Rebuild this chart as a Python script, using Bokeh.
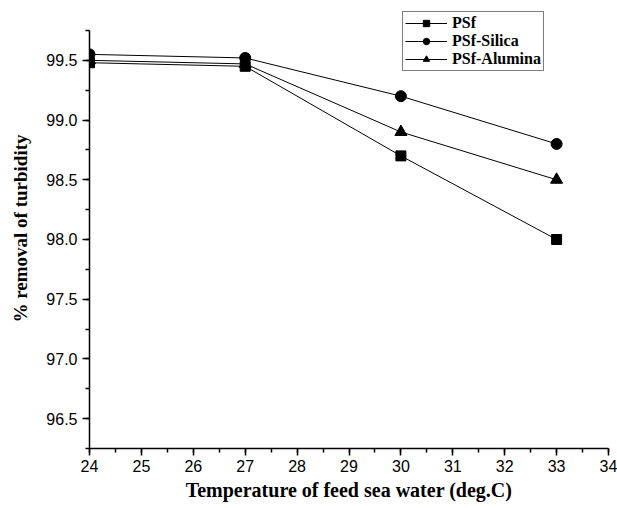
from bokeh.plotting import figure
from bokeh.models import Range1d, SingleIntervalTicker, Legend, LegendItem, NumeralTickFormatter
from bokeh.embed import file_html
from bokeh.resources import INLINE

temps = [24, 27, 30, 33]
psf = [99.48, 99.45, 98.7, 98.0]
psf_silica = [99.55, 99.52, 99.2, 98.8]
psf_alumina = [99.50, 99.47, 98.9, 98.5]
series_names = ["PSf", "PSf-Silica", "PSf-Alumina"]

p = figure(width=617, height=508, output_backend="svg", toolbar_location=None,
           x_range=Range1d(24, 34), y_range=Range1d(96.25, 99.934),
           min_border_left=89, min_border_top=8, min_border_bottom=60, min_border_right=9)
p.outline_line_color = None
p.xgrid.visible = False
p.ygrid.visible = False
p.background_fill_color = "white"

r1l = p.line(temps, psf, line_color="black", line_width=1)
r1m = p.scatter(temps, psf, marker="square", size=10, fill_color="black", line_color="black")
r2l = p.line(temps, psf_silica, line_color="black", line_width=1)
r2m = p.scatter(temps, psf_silica, marker="circle", size=11, fill_color="black", line_color="black")
r3l = p.line(temps, psf_alumina, line_color="black", line_width=1)
r3m = p.scatter(temps, psf_alumina, marker="triangle", size=12, fill_color="black", line_color="black")

p.xaxis.ticker = SingleIntervalTicker(interval=1, num_minor_ticks=2)
p.yaxis.ticker = SingleIntervalTicker(interval=0.5, num_minor_ticks=2)
p.yaxis.bounds = (96.25, 99.75)

for ax in (p.xaxis, p.yaxis):
    ax.axis_line_width = 1.5
    ax.axis_line_color = "black"
    ax.major_tick_line_color = "black"
    ax.minor_tick_line_color = "black"
    ax.major_tick_line_width = 1.5
    ax.minor_tick_line_width = 1.5
    ax.major_tick_out = 7
    ax.major_tick_in = 0
    ax.minor_tick_out = 4
    ax.minor_tick_in = 0
    ax.major_label_text_font = "Liberation Sans"
    ax.major_label_text_font_size = "16px"
    ax.major_label_text_color = "black"
    ax.axis_label_text_font = "Liberation Serif"
    ax.axis_label_text_font_style = "bold"
    ax.axis_label_text_color = "black"

p.yaxis.formatter = NumeralTickFormatter(format="0.0")
p.xaxis.axis_label_text_font_size = "20px"
p.yaxis.axis_label_text_font_size = "19px"
p.xaxis.major_label_standoff = 4
p.yaxis.major_label_standoff = 5
p.xaxis.axis_label = "Temperature of feed sea water (deg.C)"
p.yaxis.axis_label = "% removal of turbidity"
p.xaxis.axis_label_standoff = 4
p.yaxis.axis_label_standoff = 12

legend = Legend(items=[
    LegendItem(label=series_names[0], renderers=[r1l, r1m]),
    LegendItem(label=series_names[1], renderers=[r2l, r2m]),
    LegendItem(label=series_names[2], renderers=[r3l, r3m]),
], location=(313, 377))
legend.label_text_font = "Liberation Serif"
legend.label_text_font_style = "bold"
legend.label_text_font_size = "16px"
legend.label_text_color = "black"
legend.glyph_width = 42
legend.glyph_height = 16
legend.label_height = 16
legend.spacing = 0
legend.padding = 2
legend.margin = 0
legend.label_standoff = 5
legend.border_line_color = "black"
legend.border_line_width = 1
legend.background_fill_alpha = 1
p.add_layout(legend, "center")

open("out.html", "w").write(file_html(p, INLINE))
